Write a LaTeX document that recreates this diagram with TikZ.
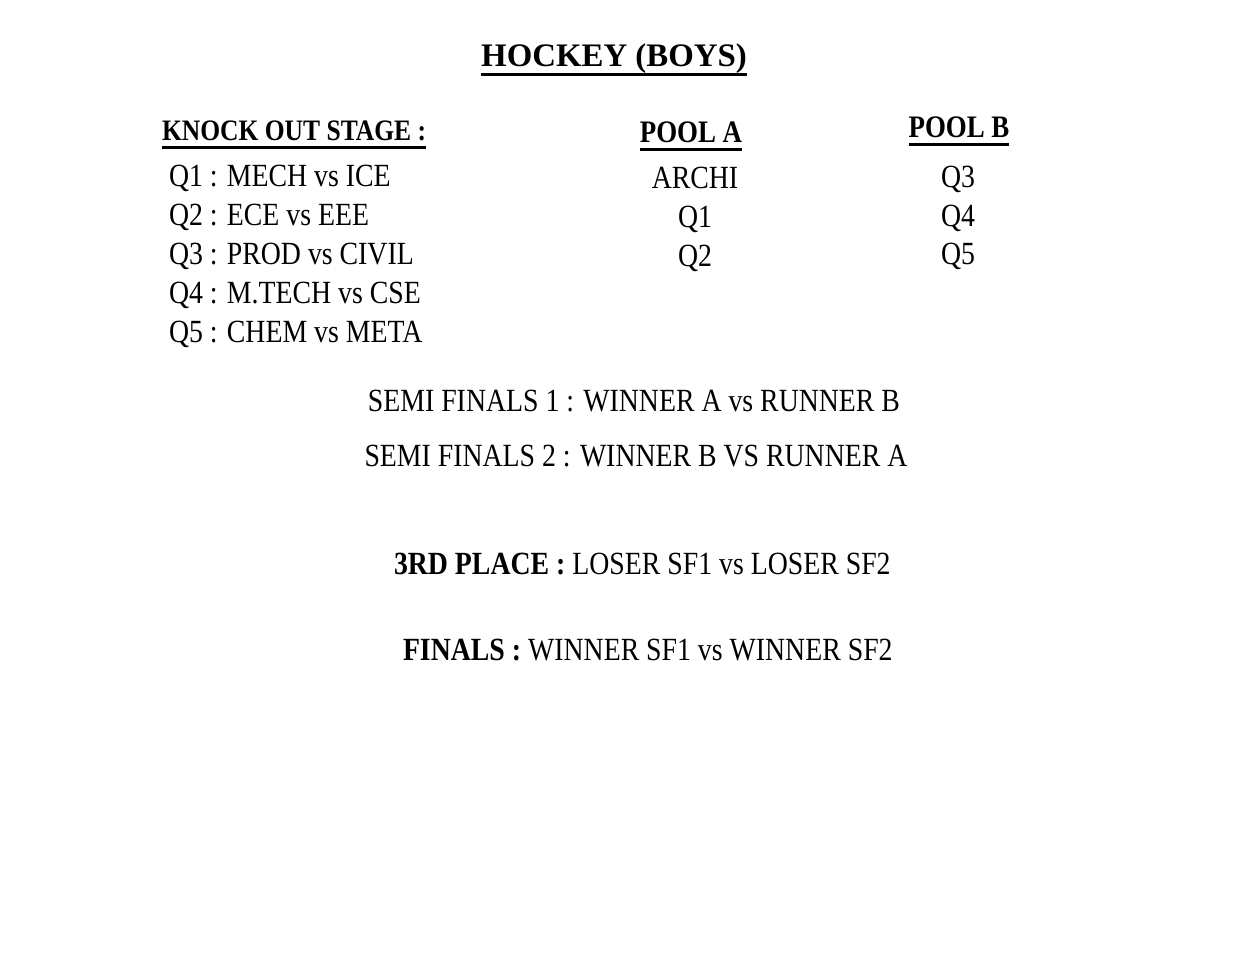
\documentclass[tikz,border=0pt]{standalone}
\usepackage{fontspec}
\setmainfont[FakeStretch=0.86]{Liberation Serif}
\newfontfamily\titlefont{Liberation Serif}
\begin{document}
\begin{tikzpicture}
  [x=0.02cm,y=-0.02cm,
   title/.style={inner sep=0,outer sep=0,anchor=base,font=\titlefont\fontsize{18.7}{22}\selectfont\bfseries},
   heading/.style={inner sep=0,outer sep=0,anchor=base,font=\fontsize{17.8}{21}\selectfont\bfseries},
   entry/.style={inner sep=0,outer sep=0,anchor=base west,font=\fontsize{18.4}{22}\selectfont},
   pool/.style={inner sep=0,outer sep=0,anchor=base,font=\fontsize{18.4}{22}\selectfont},
   uline/.style={line width=1.7pt}]
  \useasboundingbox (0,0) rectangle (1255,967);
  \node[title] (hockey) at (614,66) {HOCKEY (BOYS)};
  \node[heading,anchor=base west,font=\fontsize{16.9}{20}\selectfont\bfseries] (knock) at (162,140) {KNOCK OUT STAGE :\ };
  \node[entry] (q1) at (169,186) {Q1 : MECH vs ICE};
  \node[entry] (q2) at (169,225) {Q2 : ECE vs EEE};
  \node[entry] (q3) at (169,264) {Q3 : PROD vs CIVIL};
  \node[entry] (q4) at (169,303) {Q4 : M.TECH vs CSE};
  \node[entry] (q5) at (169,342) {Q5 : CHEM vs META};
  \node[heading] (poolA) at (691,142) {POOL A};
  \node[pool] (archi) at (695,188) {ARCHI};
  \node[pool] (poolAq1) at (695,227) {Q1};
  \node[pool] (poolAq2) at (695,266) {Q2};
  \node[heading] (poolB) at (959,137) {POOL B};
  \node[pool] (poolBq3) at (958,187) {Q3};
  \node[pool] (poolBq4) at (958,226) {Q4};
  \node[pool] (poolBq5) at (958,264) {Q5};
  \node[pool] (semi1) at (634,411) {SEMI FINALS 1 : WINNER A vs RUNNER B};
  \node[pool] (semi2) at (636,466) {SEMI FINALS 2 : WINNER B VS RUNNER A};
  \node[entry] (third) at (394,574) {\textbf{3RD PLACE :} LOSER SF1 vs LOSER SF2};
  \node[entry] (finals) at (403,660) {\textbf{FINALS :} WINNER SF1 vs WINNER SF2};
  \draw[uline] ([yshift=-5pt]hockey.base west) -- ([yshift=-5pt]hockey.base east);
  \draw[uline] ([yshift=-4pt]knock.base west) -- ([yshift=-4pt]knock.base east);
  \draw[uline] ([yshift=-4pt]poolA.base west) -- ([yshift=-4pt]poolA.base east);
  \draw[uline] ([yshift=-4pt]poolB.base west) -- ([yshift=-4pt]poolB.base east);
\end{tikzpicture}
\end{document}
